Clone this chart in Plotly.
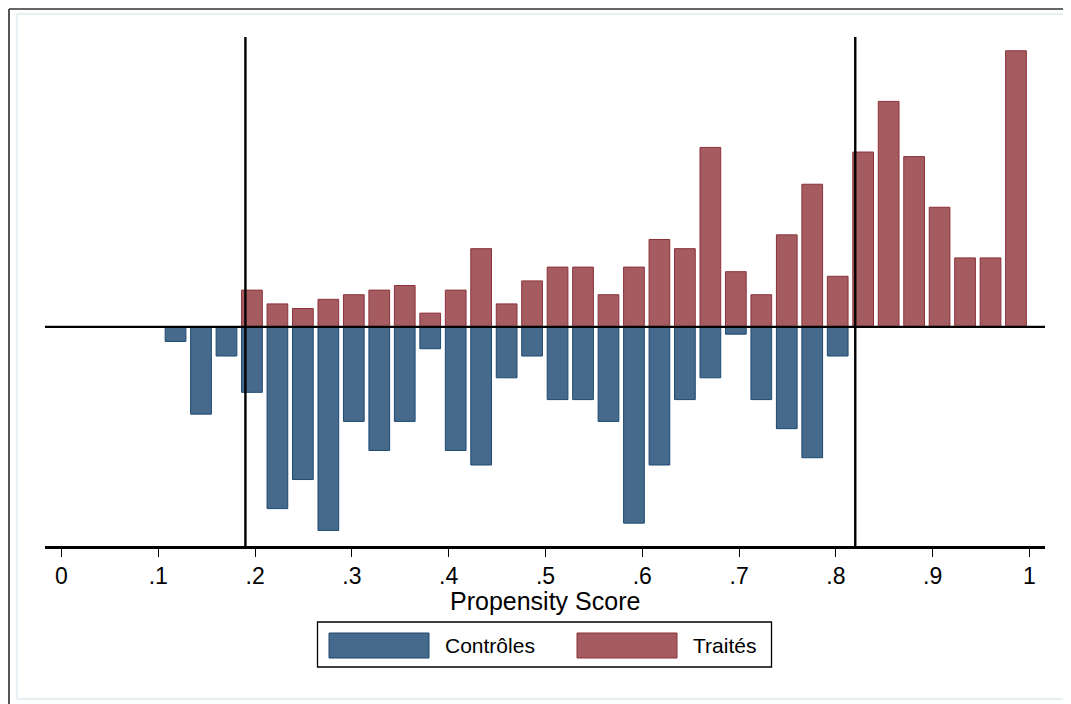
import plotly.graph_objects as go

########## DATA ##########
# histogram counts, one value per bin (34 bins)
bin_lo = 0.1178        # centre of the first bin
bin_w = 0.02631        # bin width
controles = [2, 12, 4, 9, 25, 21, 28, 13, 17, 13, 3, 17, 19, 7, 4, 10, 10,
             13, 27, 19, 10, 7, 1, 10, 14, 18, 4, 0, 0, 0, 0, 0, 0, 0]
traites = [0, 0, 0, 8, 5, 4, 6, 7, 8, 9, 3, 8, 17, 5, 10, 13, 13,
           7, 13, 19, 17, 39, 12, 7, 20, 31, 11, 38, 49, 37, 26, 15, 15, 60]
support = [0.19, 0.82]  # common support bounds
tick_vals = [0, .1, .2, .3, .4, .5, .6, .7, .8, .9, 1]
tick_text = ['0', '.1', '.2', '.3', '.4', '.5', '.6', '.7', '.8', '.9', '1']
labels = ['Contrôles', 'Traités']

########## DENSITIES ##########
centres = [bin_lo + i * bin_w for i in range(len(traites))]
n_c = sum(controles)
n_t = sum(traites)
dens_c = [-c / (n_c * bin_w) for c in controles]
dens_t = [t / (n_t * bin_w) for t in traites]

blue_fill, blue_line = 'rgb(70,106,139)', 'rgb(30,72,112)'
red_fill, red_line = 'rgb(165,92,96)', 'rgb(140,48,58)'
font = 'Liberation Sans, Arial, sans-serif'

fig = go.Figure()
fig.add_trace(go.Bar(x=centres, y=dens_c, width=0.0214, name=labels[0],
                     marker=dict(color=blue_fill, line=dict(color=blue_line, width=1))))
fig.add_trace(go.Bar(x=centres, y=dens_t, width=0.0214, name=labels[1],
                     marker=dict(color=red_fill, line=dict(color=red_line, width=1))))

shapes = []
# zero line and support lines
shapes.append(dict(type='line', xref='paper', yref='y', x0=0, x1=1, y0=0, y1=0,
                   line=dict(color='black', width=2.2), layer='above'))
for s in support:
    shapes.append(dict(type='line', xref='x', yref='paper', x0=s, x1=s, y0=0, y1=1,
                       line=dict(color='black', width=2.4), layer='above'))

# page pixels -> paper coords (page has an 8px body margin; plot area = 45..1045 x 37..546)
def px(X):
    return (X - 45) / 1000.0

def py(Y):
    return (546 - Y) / 509.0

# outer frames
shapes.append(dict(type='line', xref='paper', yref='paper', x0=px(9), x1=px(1071),
                   y0=py(9), y1=py(9), line=dict(color='#333333', width=1.6)))
shapes.append(dict(type='line', xref='paper', yref='paper', x0=px(9), x1=px(9),
                   y0=py(9), y1=py(704), line=dict(color='#555555', width=2)))
light = dict(color='#e6eef1', width=2)
shapes.append(dict(type='line', xref='paper', yref='paper', x0=px(16.8), x1=px(16.8),
                   y0=py(14), y1=py(699), line=light))
shapes.append(dict(type='line', xref='paper', yref='paper', x0=px(16.8), x1=px(1071),
                   y0=py(14), y1=py(14), line=light))
shapes.append(dict(type='line', xref='paper', yref='paper', x0=px(16.8), x1=px(1071),
                   y0=py(699), y1=py(699), line=light))

# legend box drawn by hand to get Stata-like wide keys
shapes.append(dict(type='rect', xref='paper', yref='paper', x0=px(317.5), x1=px(771.5),
                   y0=py(667), y1=py(622), line=dict(color='black', width=1.3),
                   fillcolor='white'))
shapes.append(dict(type='rect', xref='paper', yref='paper', x0=px(329), x1=px(429),
                   y0=py(658), y1=py(633), line=dict(color=blue_line, width=1),
                   fillcolor=blue_fill))
shapes.append(dict(type='rect', xref='paper', yref='paper', x0=px(577), x1=px(677),
                   y0=py(658), y1=py(633), line=dict(color=red_line, width=1),
                   fillcolor=red_fill))

annotations = [
    dict(text='Propensity Score', xref='paper', yref='paper', x=0.5, y=py(601),
         xanchor='center', yanchor='middle', showarrow=False,
         font=dict(family=font, size=25, color='black')),
    dict(text=labels[0], xref='paper', yref='paper', x=px(443), y=py(645.5),
         xanchor='left', yanchor='middle', showarrow=False,
         font=dict(family=font, size=21, color='black')),
    dict(text=labels[1], xref='paper', yref='paper', x=px(691), y=py(645.5),
         xanchor='left', yanchor='middle', showarrow=False,
         font=dict(family=font, size=21, color='black')),
]

fig.update_layout(
    width=1063, height=696,
    margin=dict(l=37, r=26, t=29, b=158),
    paper_bgcolor='white', plot_bgcolor='white',
    showlegend=False, barmode='overlay',
    shapes=shapes, annotations=annotations,
    xaxis=dict(range=[-0.01705, 1.01601], tickvals=tick_vals, ticktext=tick_text,
               ticks='outside', ticklen=8, tickwidth=1.2, tickcolor='black',
               showline=True, linecolor='black', linewidth=2.5,
               showgrid=False, zeroline=False,
               tickfont=dict(family=font, size=23, color='black')),
    yaxis=dict(range=[-3.40, 4.50], showticklabels=False, showgrid=False,
               zeroline=False, showline=False, ticks=''),
)

fig.write_html("out.html")
